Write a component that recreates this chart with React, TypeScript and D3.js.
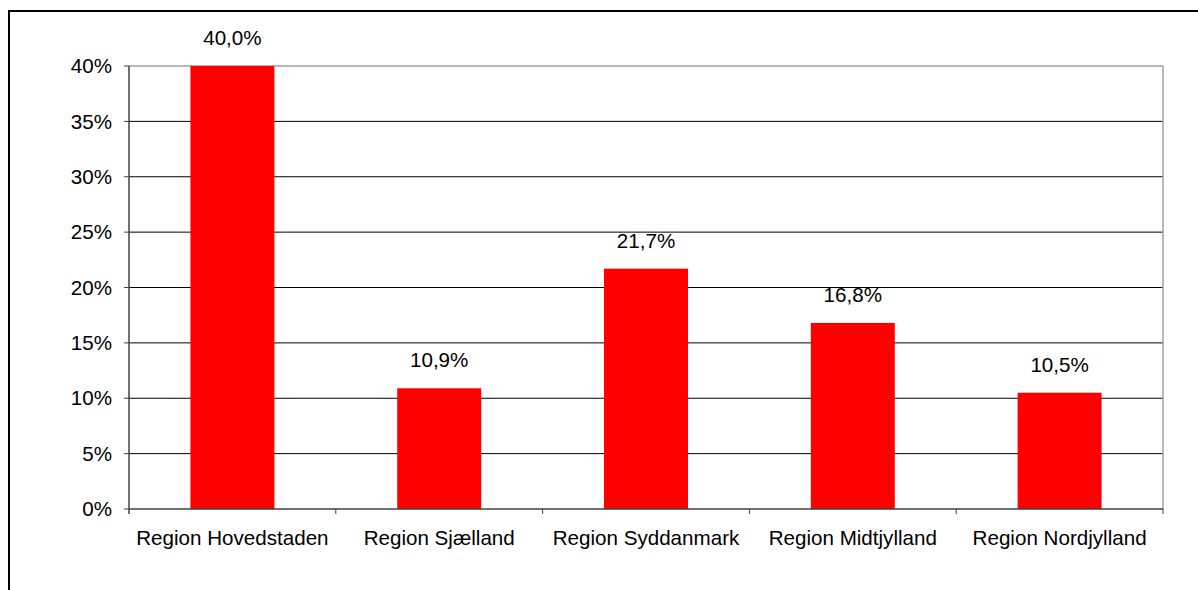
import React from "react";
import * as d3 from "d3";

const categories = [
  "Region Hovedstaden",
  "Region Sjælland",
  "Region Syddanmark",
  "Region Midtjylland",
  "Region Nordjylland",
];
const values = [40.0, 10.9, 21.7, 16.8, 10.5];
const yTicks = [0, 5, 10, 15, 20, 25, 30, 35, 40];

const W = 1198;
const H = 590;
const left = 129;
const right = 1163;
const top = 66;
const bottom = 509;
const FONT = "'Liberation Sans', Arial, sans-serif";
const FS = 20.6;

export default function App() {
  const x = d3
    .scaleBand<string>()
    .domain(categories)
    .range([left, right])
    .paddingInner(0.594)
    .paddingOuter(0.297);
  const band = d3.scaleBand<string>().domain(categories).range([left, right]);
  const y = d3.scaleLinear().domain([0, 40]).range([bottom, top]);
  const fmt = (v: number) => v.toFixed(1).replace(".", ",") + "%";

  return (
    <svg
      width={W}
      height={H}
      style={{ position: "absolute", left: 0, top: 0, background: "#fff" }}
      fontFamily={FONT}
    >
      <rect x={0} y={0} width={W} height={H} fill="#fff" />
      {/* outer chart frame (clipped) */}
      <rect x={9} y={11} width={W + 20} height={H + 20} fill="none" stroke="#000" strokeWidth={2} />
      {/* gridlines */}
      {yTicks.slice(1, -1).map((t) => (
        <line key={t} x1={left} x2={right} y1={y(t)} y2={y(t)} stroke="#000" strokeWidth={1} />
      ))}
      {/* plot border top/right */}
      <line x1={left} x2={right} y1={y(40)} y2={y(40)} stroke="#a0a0a0" strokeWidth={1.5} />
      <line x1={right} x2={right} y1={y(40)} y2={bottom} stroke="#a0a0a0" strokeWidth={1.5} />
      {/* bars */}
      {categories.map((c, i) => (
        <rect
          key={c}
          x={x(c)}
          y={y(values[i])}
          width={x.bandwidth()}
          height={bottom - y(values[i])}
          fill="#ff0000"
        />
      ))}
      {/* value labels */}
      {categories.map((c, i) => (
        <text
          key={c}
          x={(x(c) as number) + x.bandwidth() / 2}
          y={y(values[i]) - 21}
          textAnchor="middle"
          fontSize={FS}
          fill="#000"
        >
          {fmt(values[i])}
        </text>
      ))}
      {/* y axis */}
      <line x1={left} x2={left} y1={top} y2={bottom + 5} stroke="#404040" strokeWidth={1.5} />
      {yTicks.map((t) => (
        <g key={t}>
          <line x1={left - 5} x2={left} y1={y(t)} y2={y(t)} stroke="#404040" strokeWidth={1} />
          <text x={112} y={y(t)} dy="0.35em" textAnchor="end" fontSize={FS} fill="#000">
            {t}%
          </text>
        </g>
      ))}
      {/* x axis */}
      <line x1={left} x2={right} y1={bottom} y2={bottom} stroke="#404040" strokeWidth={1.5} />
      {categories.map((c) => (
        <line
          key={c}
          x1={(band(c) as number) + band.bandwidth()}
          x2={(band(c) as number) + band.bandwidth()}
          y1={bottom}
          y2={bottom + 5}
          stroke="#404040"
          strokeWidth={1}
        />
      ))}
      {categories.map((c) => (
        <text
          key={c}
          x={(band(c) as number) + band.bandwidth() / 2}
          y={545}
          textAnchor="middle"
          fontSize={FS}
          fill="#000"
        >
          {c}
        </text>
      ))}
    </svg>
  );
}
